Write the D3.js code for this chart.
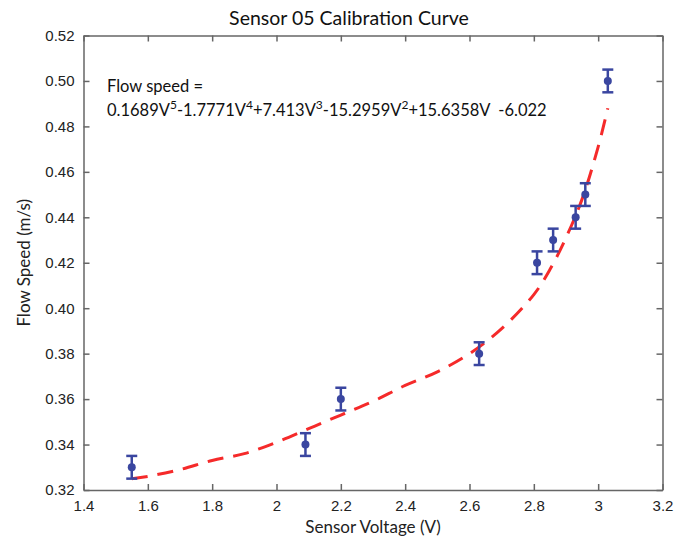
<!doctype html>
<html lang="en">
  <head>
    <meta charset="UTF-8" />
    <title>Sensor 05 Calibration Curve</title>
    <script src="https://d3js.org/d3.v7.min.js"></script>
    <style>
      body {
        margin: 0;
        background: #fff;
        font-family: Lato, 'Open Sans', sans-serif;
      }
      .tick text {
        font-size: 15px;
        fill: #222;
      }
      .axis path,
      .axis line {
        stroke: #666;
        stroke-width: 1.5;
      }
      .title {
        font-size: 19.5px;
        fill: #111;
      }
      .axis-label {
        font-size: 17px;
        fill: #222;
      }
      .equation {
        font-size: 16.5px;
        fill: #111;
      }
    </style>
  </head>
  <body>
    <svg id="chart"></svg>
    <script>
      // measured points (V, m/s), error +-0.005
      const voltage = [1.55, 2.09, 2.2, 2.63, 2.81, 2.86, 2.93, 2.96, 3.03]
      const speed = [0.33, 0.34, 0.36, 0.38, 0.42, 0.43, 0.44, 0.45, 0.5]
      const errHalf = 0.005

      // fitted curve as it appears on the plot
      const fitVoltage = [1.55, 1.6, 1.7, 1.8, 1.9, 2.0, 2.1, 2.2, 2.3, 2.4, 2.5, 2.6, 2.7, 2.8, 2.85, 2.9, 2.95, 3.0, 3.03]
      const fitSpeed = [0.325, 0.326, 0.329, 0.333, 0.336, 0.341, 0.347, 0.353, 0.359, 0.366, 0.372, 0.38, 0.391, 0.406, 0.417, 0.431, 0.448, 0.471, 0.488]

      const xTicks = [1.4, 1.6, 1.8, 2, 2.2, 2.4, 2.6, 2.8, 3, 3.2]
      const yTicks = [0.32, 0.34, 0.36, 0.38, 0.4, 0.42, 0.44, 0.46, 0.48, 0.5, 0.52]

      const W = 698
      const H = 538
      const margin = { top: 35.5, right: 35.5, bottom: 48, left: 83.5 }
      const width = W - margin.left - margin.right
      const height = H - margin.top - margin.bottom

      const svg = d3.select('#chart').attr('width', W).attr('height', H)
      const g = svg.append('g').attr('transform', `translate(${margin.left},${margin.top})`)

      const x = d3.scaleLinear().domain([1.4, 3.2]).range([0, width])
      const y = d3.scaleLinear().domain([0.32, 0.52]).range([height, 0])

      // axes with inward ticks on all four sides
      g.append('g')
        .attr('class', 'axis')
        .attr('transform', `translate(0,${height})`)
        .call(d3.axisBottom(x).tickValues(xTicks).tickFormat(d3.format('')).tickSizeInner(-6).tickSizeOuter(0).tickPadding(10))
      g.append('g')
        .attr('class', 'axis')
        .call(d3.axisTop(x).tickValues(xTicks).tickFormat('').tickSizeInner(-6).tickSizeOuter(0))
      g.append('g')
        .attr('class', 'axis')
        .call(d3.axisLeft(y).tickValues(yTicks).tickFormat(d3.format('.2f')).tickSizeInner(-6).tickSizeOuter(0).tickPadding(9))
      g.append('g')
        .attr('class', 'axis')
        .attr('transform', `translate(${width},0)`)
        .call(d3.axisRight(y).tickValues(yTicks).tickFormat('').tickSizeInner(-6).tickSizeOuter(0))
      g.selectAll('.axis .domain').attr('stroke', '#666').attr('stroke-width', 1.5)

      // fitted curve
      const fit = fitVoltage.map((v, i) => ({ v, s: fitSpeed[i] }))
      const line = d3
        .line()
        .x((d) => x(d.v))
        .y((d) => y(d.s))
        .curve(d3.curveCatmullRom.alpha(0.5))
      g.append('path')
        .datum(fit)
        .attr('d', line)
        .attr('fill', 'none')
        .attr('stroke', '#f52a2a')
        .attr('stroke-width', 3)
        .attr('stroke-dasharray', '16,10')

      // data points with error bars
      const pts = voltage.map((v, i) => ({ v, s: speed[i] }))
      const blue = '#3a46a0'
      const bars = g.selectAll('.pt').data(pts).enter().append('g').attr('class', 'pt')
      bars
        .append('line')
        .attr('x1', (d) => x(d.v))
        .attr('x2', (d) => x(d.v))
        .attr('y1', (d) => y(d.s - errHalf))
        .attr('y2', (d) => y(d.s + errHalf))
        .attr('stroke', blue)
        .attr('stroke-width', 2.5)
      ;[-1, 1].forEach((sgn) => {
        bars
          .append('line')
          .attr('x1', (d) => x(d.v) - 5.5)
          .attr('x2', (d) => x(d.v) + 5.5)
          .attr('y1', (d) => y(d.s + sgn * errHalf))
          .attr('y2', (d) => y(d.s + sgn * errHalf))
          .attr('stroke', blue)
          .attr('stroke-width', 2.5)
      })
      bars
        .append('circle')
        .attr('cx', (d) => x(d.v))
        .attr('cy', (d) => y(d.s))
        .attr('r', 4)
        .attr('fill', blue)

      // title and axis labels
      svg.append('text')
        .attr('class', 'title')
        .attr('x', W / 2)
        .attr('y', 25)
        .attr('text-anchor', 'middle')
        .text('Sensor 05 Calibration Curve')

      svg.append('text')
        .attr('class', 'axis-label')
        .attr('x', margin.left + width / 2)
        .attr('y', 533)
        .attr('text-anchor', 'middle')
        .text('Sensor Voltage (V)')

      svg.append('text')
        .attr('class', 'axis-label')
        .attr('transform', `translate(30,${margin.top + height / 2}) rotate(-90)`)
        .attr('text-anchor', 'middle')
        .text('Flow Speed (m/s)')

      // equation annotation
      svg.append('text').attr('class', 'equation').attr('x', 107).attr('y', 92).text('Flow speed =')
      const eq = svg.append('text').attr('class', 'equation').attr('x', 107).attr('y', 116).attr('xml:space', 'preserve')
      const bases = ['0.1689V', '-1.7771V', '+7.413V', '-15.2959V', '+15.6358V  -6.022']
      const powers = ['5', '4', '3', '2', null]
      bases.forEach((base, i) => {
        eq.append('tspan').attr('dy', i === 0 ? 0 : 7).text(base)
        if (powers[i]) {
          eq.append('tspan').attr('dy', -7).attr('font-size', '12px').text(powers[i])
        }
      })
    </script>
  </body>
</html>
